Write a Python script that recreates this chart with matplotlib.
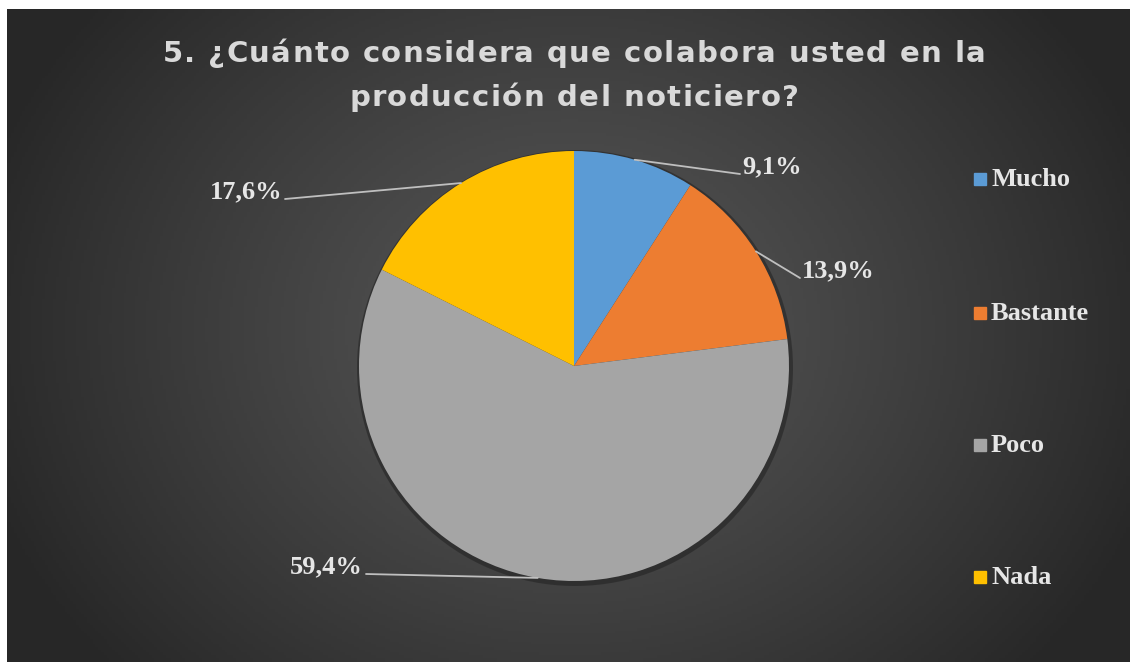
import numpy as np
import matplotlib
matplotlib.use("Agg")
import matplotlib.pyplot as plt
from matplotlib.patches import Rectangle, Circle

# Survey answers and their shares (%)
categories = ["Mucho", "Bastante", "Poco", "Nada"]
shares = [9.1, 13.9, 59.4, 17.6]
colors = ["#5B9BD5", "#ED7D31", "#A5A5A5", "#FFC000"]
title_lines = ["5. ¿Cuánto considera que colabora usted en la",
               "producción del noticiero?"]

W, H = 1130, 662
fig = plt.figure(figsize=(W / 100, H / 100), dpi=100)
fig.patch.set_facecolor("white")

ax = fig.add_axes([0, 0, 1, 1])
ax.set_xlim(0, W)
ax.set_ylim(0, H)
ax.axis("off")

# Dark radial-gradient panel
x0, y0 = 7, 0
x1, y1 = W, H - 9
gx = np.linspace(x0, x1, 400)
gy = np.linspace(y0, y1, 240)
GX, GY = np.meshgrid(gx, gy)
cx, cy = 570, H - 330
d = np.sqrt(((GX - cx) / 620) ** 2 + ((GY - cy) / 520) ** 2)
d = np.clip(d, 0, 1)
inner, outer = np.array([0x56, 0x56, 0x56]), np.array([0x27, 0x27, 0x27])
img = inner[None, None, :] * (1 - d[..., None] ** 1.2) + outer[None, None, :] * d[..., None] ** 1.2
ax.imshow(img.astype(np.uint8), extent=(x0, x1, y0, y1), origin="lower",
          interpolation="bilinear", zorder=0, aspect="auto")

# Pie with a soft outer shadow
pcx, pcy, R = 574, H - 366, 215
ax.add_patch(Circle((pcx + 1, pcy - 2), R + 3, color="#1e1e1e", alpha=0.5, zorder=1, lw=0))
wedges, _ = ax.pie(shares, colors=colors, startangle=90, counterclock=False,
                   center=(pcx, pcy), radius=R,
                   wedgeprops=dict(linewidth=0, zorder=2))
ax.set_xlim(0, W)
ax.set_ylim(0, H)
ax.set_aspect("equal")
ax.axis("off")

# Data labels with leader lines: (anchor x, anchor y, alignment)
label_spots = [(742, H - 167, "left"), (802, H - 271, "left"),
               (363, H - 567, "right"), (282, H - 192, "right")]
lab_font = dict(family="Liberation Serif", weight="bold", size=19, color="#E6E6E6")
for w, val, (lx, ly, ha) in zip(wedges, shares, label_spots):
    mid = np.deg2rad((w.theta1 + w.theta2) / 2)
    ex, ey = pcx + R * np.cos(mid), pcy + R * np.sin(mid)
    end_x = lx - 2 if ha == "left" else lx + 3
    ax.plot([ex, end_x], [ey, ly - 7], color="#BFBFBF", lw=1.3, zorder=3,
            solid_capstyle="round")
    ax.text(lx, ly, f"{val:.1f}%".replace(".", ","), ha=ha, va="center",
            zorder=4, **lab_font)

# Legend on the right
leg_y = [179, 313, 445, 577]
for cat, col, yy in zip(categories, colors, leg_y):
    ax.add_patch(Rectangle((974, H - yy - 6), 12, 12, color=col, zorder=4))
    ax.text(991, H - yy, cat, ha="left", va="center", zorder=4, **lab_font)

# Title, drawn glyph by glyph with extra tracking
renderer = fig.canvas.get_renderer()
title_font = dict(color="#D9D9D9", fontsize=21, fontweight="bold", family="DejaVu Sans")
tracking = 1.4
for line, base in zip(title_lines, [62, 106]):
    widths = []
    for ch in line:
        t = ax.text(0, 0, ch if ch != " " else "a a", **title_font)
        bb = t.get_window_extent(renderer)
        if ch == " ":
            t2 = ax.text(0, 0, "aa", **title_font)
            w_ = bb.width - t2.get_window_extent(renderer).width
            t2.remove()
        else:
            w_ = bb.width
        t.remove()
        widths.append(w_ + tracking)
    total = sum(widths) - tracking
    x = 574 - total / 2
    for ch, w_ in zip(line, widths):
        if ch != " ":
            ax.text(x, H - base, ch, ha="left", va="baseline", zorder=4, **title_font)
        x += w_

fig.savefig("out.png", dpi=100, facecolor=fig.get_facecolor())
